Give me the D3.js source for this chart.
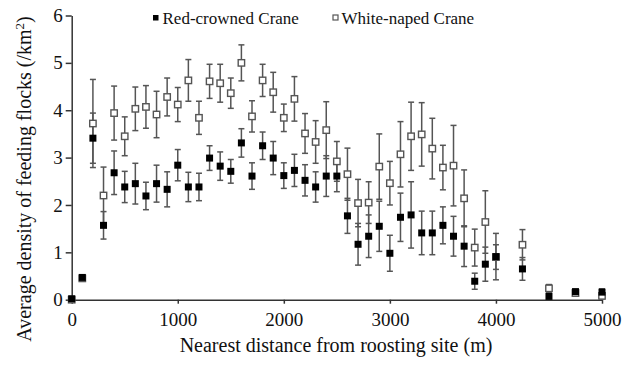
<!DOCTYPE html>
<html lang="en">
<head>
    <meta charset="UTF-8">
    <title>Average density of feeding flocks</title>
    <script src="https://d3js.org/d3.v7.min.js"></script>
    <style>
        body {
            margin: 0;
            background: white;
        }
        svg text {
            font-family: "Liberation Serif", "Times New Roman", serif;
            fill: #111;
        }
        .axis path, .axis line {
            stroke: #333;
            stroke-width: 1.5;
        }
        .axis text {
            font-size: 19px;
        }
        .err {
            stroke: #555;
            stroke-width: 1.5;
        }
    </style>
</head>
<body>
    <svg id="chart" width="628" height="368"></svg>
    <script>
        // distances (m) where flocks were counted
        const distances = [0, 100, 200, 300, 400, 500, 600, 700, 800, 900,
            1000, 1100, 1200, 1300, 1400, 1500, 1600, 1700, 1800, 1900,
            2000, 2100, 2200, 2300, 2400, 2500, 2600, 2700, 2800, 2900,
            3000, 3100, 3200, 3300, 3400, 3500, 3600, 3700, 3800, 3900,
            4000, 4250, 4500, 4750, 5000];

        // Red-crowned Crane: mean and error
        const redMean = [0.02, 0.47, 3.41, 1.57, 2.68, 2.38, 2.45, 2.19, 2.45, 2.33,
            2.84, 2.38, 2.38, 2.99, 2.82, 2.71, 3.31, 2.61, 3.25, 2.99,
            2.62, 2.73, 2.52, 2.38, 2.61, 2.61, 1.77, 1.17, 1.34, 1.55,
            0.98, 1.74, 1.79, 1.41, 1.41, 1.57, 1.34, 1.13, 0.39, 0.75,
            0.91, 0.65, 0.07, 0.17, 0.16];
        const redErr = [0, 0, 0.53, 0.29, 0.46, 0.33, 0.43, 0.29, 0.39, 0.37,
            0.33, 0.31, 0.29, 0.26, 0.30, 0.25, 0.30, 0.28, 0.29, 0.35,
            0.27, 0.34, 0.33, 0.32, 0.43, 0.33, 0.37, 0.44, 0.45, 0.53,
            0.38, 0.51, 0.70, 0.46, 0.46, 0.39, 0.42, 0.43, 0.17, 0.36,
            0.49, 0.24, 0.05, 0.05, 0.07];

        // White-naped Crane: mean and error
        const whiteMean = [0, 0.45, 3.72, 2.20, 3.94, 3.45, 4.03, 4.07, 3.91, 4.28,
            4.12, 4.63, 3.84, 4.61, 4.57, 4.36, 5.00, 3.87, 4.63, 4.38,
            3.84, 4.24, 3.51, 3.33, 3.58, 2.92, 2.65, 2.04, 2.05, 2.81,
            2.46, 3.07, 3.45, 3.49, 3.19, 2.79, 2.83, 2.14, 1.10, 1.64,
            0.90, 1.16, 0.24, 0.14, 0.08];
        const whiteErr = [0, 0, 0.93, 0.60, 0.57, 0.41, 0.46, 0.45, 0.49, 0.40,
            0.36, 0.44, 0.35, 0.36, 0.40, 0.32, 0.38, 0.33, 0.34, 0.42,
            0.29, 0.47, 0.42, 0.45, 0.60, 0.42, 0.55, 0.50, 0.44, 0.69,
            0.46, 0.69, 0.72, 0.67, 0.64, 0.47, 0.85, 0.60, 0.39, 0.66,
            0.26, 0.32, 0.08, 0.05, 0.06];

        const xTicks = [0, 1000, 2000, 3000, 4000, 5000];
        const yTicks = [0, 1, 2, 3, 4, 5, 6];

        const svg = d3.select("#chart");

        const x = d3.scaleLinear().domain([0, 5000]).range([71.7, 602]);
        const y = d3.scaleLinear().domain([0, 6]).range([299.7, 15.5]);

        const red = distances.map((d, i) => ({ d: d, m: redMean[i], e: redErr[i] }));
        const white = distances.map((d, i) => ({ d: d, m: whiteMean[i], e: whiteErr[i] }));

        // axes
        svg.append("g")
            .attr("class", "axis")
            .attr("transform", "translate(0,299.7)")
            .call(d3.axisBottom(x).tickValues(xTicks).tickFormat(d3.format("d"))
                .tickSize(4).tickSizeOuter(0).tickPadding(9));

        svg.append("g")
            .attr("class", "axis")
            .attr("transform", "translate(71.7,0)")
            .call(d3.axisLeft(y).tickValues(yTicks).tickFormat(d3.format("d"))
                .tickSize(6).tickSizeOuter(0).tickPadding(3));

        // error bars
        function errorBars(data, cls) {
            const g = svg.append("g").attr("class", "err " + cls);
            const bars = data.filter(p => p.e > 0);
            g.selectAll("line.v").data(bars).enter().append("line")
                .attr("class", "v")
                .attr("x1", p => x(p.d)).attr("x2", p => x(p.d))
                .attr("y1", p => y(p.m + p.e)).attr("y2", p => y(Math.max(0, p.m - p.e)));
            g.selectAll("line.t").data(bars).enter().append("line")
                .attr("class", "t")
                .attr("x1", p => x(p.d) - 3).attr("x2", p => x(p.d) + 3)
                .attr("y1", p => y(p.m + p.e)).attr("y2", p => y(p.m + p.e));
            g.selectAll("line.b").data(bars).enter().append("line")
                .attr("class", "b")
                .attr("x1", p => x(p.d) - 3).attr("x2", p => x(p.d) + 3)
                .attr("y1", p => y(Math.max(0, p.m - p.e))).attr("y2", p => y(Math.max(0, p.m - p.e)));
        }
        errorBars(white, "white");
        errorBars(red, "red");

        // markers
        svg.append("g").selectAll("rect").data(white).enter().append("rect")
            .attr("x", p => x(p.d) - 3.2).attr("y", p => y(p.m) - 3.2)
            .attr("width", 6.4).attr("height", 6.4)
            .attr("fill", "white").attr("stroke", "#555").attr("stroke-width", 1.4);

        svg.append("g").selectAll("rect").data(red).enter().append("rect")
            .attr("x", p => x(p.d) - 3.5).attr("y", p => y(p.m) - 3.5)
            .attr("width", 7).attr("height", 7)
            .attr("fill", "#000");

        // legend
        const legend = svg.append("g");
        legend.append("rect").attr("x", 153).attr("y", 15).attr("width", 5.5).attr("height", 5.5).attr("fill", "#000");
        legend.append("text").attr("x", 162.5).attr("y", 23.5).attr("font-size", 17).text("Red-crowned Crane");
        legend.append("rect").attr("x", 333).attr("y", 15).attr("width", 5).attr("height", 5)
            .attr("fill", "white").attr("stroke", "#555").attr("stroke-width", 1.2);
        legend.append("text").attr("x", 341.5).attr("y", 23.5).attr("font-size", 17).text("White-naped Crane");

        // axis titles
        svg.append("text")
            .attr("x", 336).attr("y", 352)
            .attr("text-anchor", "middle")
            .attr("font-size", 20)
            .text("Nearest distance from roosting site (m)");

        const yTitle = svg.append("text")
            .attr("transform", "translate(31,179) rotate(-90)")
            .attr("text-anchor", "middle")
            .attr("font-size", 20);
        yTitle.append("tspan").text("Average density of feeding flocks (/km");
        yTitle.append("tspan").attr("dy", -7).attr("font-size", 13).text("2");
        yTitle.append("tspan").attr("dy", 7).text(")");
    </script>
</body>
</html>
